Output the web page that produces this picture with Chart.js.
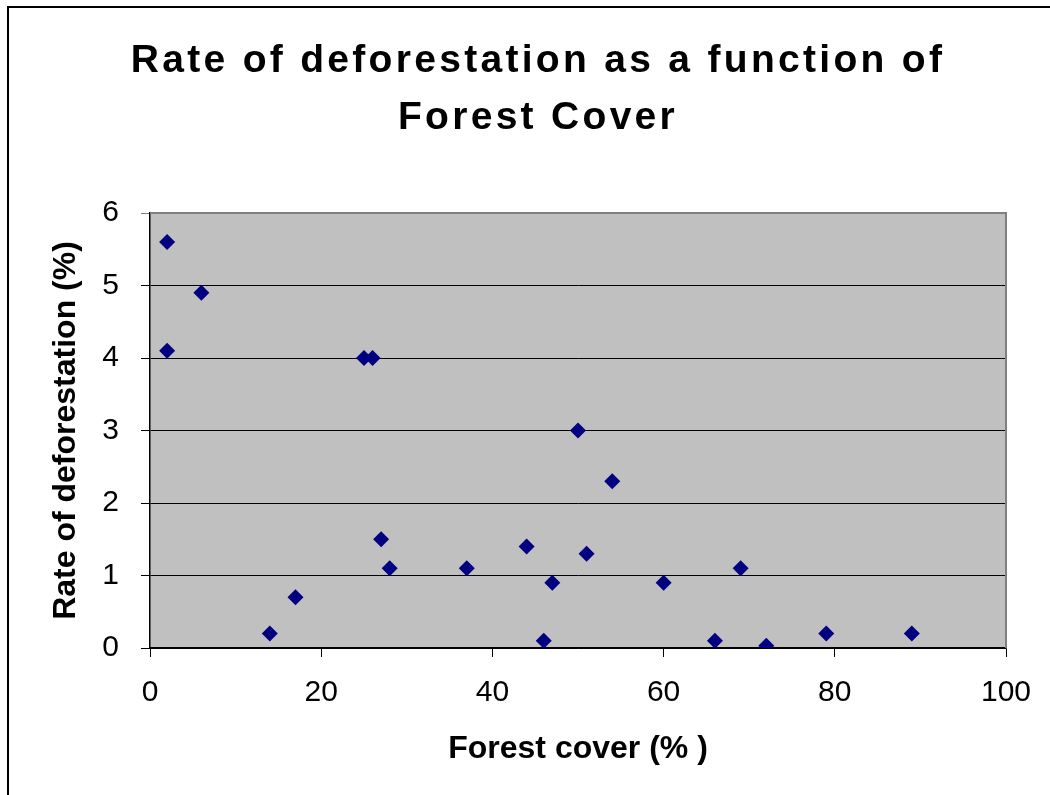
<!DOCTYPE html>
<html>
<head>
<meta charset="utf-8">
<script src="https://cdn.jsdelivr.net/npm/chart.js@4"></script>
<style>
  html, body { margin: 0; padding: 0; background: #fff; }
  #wrap { width: 1050px; height: 795px; position: relative; }
</style>
</head>
<body>
<div id="wrap"><canvas id="deforestChart"></canvas></div>
<script>
// Rate of deforestation vs forest cover
const titleLines = ['Rate of deforestation as a function of', 'Forest Cover'];
const xTitle = 'Forest cover (% )';
const yTitle = 'Rate of deforestation (%)';

const forestCover = [2, 6, 2, 25, 26, 14, 17, 27, 28, 37, 44, 46, 47, 50, 51, 54, 60, 66, 69, 72, 79, 89];
const deforestationRate = [5.6, 4.9, 4.1, 4.0, 4.0, 0.2, 0.7, 1.5, 1.1, 1.1, 1.4, 0.1, 0.9, 3.0, 1.3, 2.3, 0.9, 0.1, 1.1, 0.03, 0.2, 0.2];

const xTicks = [0, 20, 40, 60, 80, 100];
const yTicks = [0, 1, 2, 3, 4, 5, 6];

const points = forestCover.map((x, i) => ({ x: x, y: deforestationRate[i] }));

const FONT = '"Liberation Sans", Arial, sans-serif';

// plot background, outer frame, right/top border and title
const decor = {
    id: 'decor',
    beforeDraw(chart) {
        const { ctx, chartArea: a } = chart;
        ctx.save();
        ctx.fillStyle = '#C0C0C0';
        ctx.fillRect(a.left, a.top, a.right - a.left, a.bottom - a.top);
        // outer frame (only left and top visible)
        ctx.strokeStyle = '#000';
        ctx.lineWidth = 2;
        ctx.beginPath();
        ctx.moveTo(8, 800);
        ctx.lineTo(8, 7);
        ctx.lineTo(1060, 7);
        ctx.stroke();
        ctx.restore();
    },
    afterDraw(chart) {
        const { ctx, chartArea: a } = chart;
        ctx.save();
        ctx.strokeStyle = '#808080';
        ctx.lineWidth = 2;
        ctx.beginPath();
        ctx.moveTo(a.left, a.top);
        ctx.lineTo(a.right, a.top);
        ctx.lineTo(a.right, a.bottom);
        ctx.stroke();
        // title
        ctx.fillStyle = '#000';
        ctx.font = 'bold 39px ' + FONT;
        ctx.letterSpacing = '3.3px';
        ctx.textAlign = 'center';
        ctx.textBaseline = 'middle';
        ctx.fillText(titleLines[0], 538, 61);
        ctx.fillText(titleLines[1], 538, 118);
        ctx.restore();
    }
};

const ctx = document.getElementById('deforestChart').getContext('2d');
new Chart(ctx, {
    type: 'scatter',
    data: {
        datasets: [{
            label: 'Deforestation',
            data: points,
            pointStyle: 'rectRot',
            pointRadius: 8,
            pointHoverRadius: 8,
            backgroundColor: '#000080',
            borderColor: '#000080',
            borderWidth: 0
        }]
    },
    options: {
        responsive: true,
        maintainAspectRatio: false,
        animation: false,
        layout: {
            padding: { top: 213, right: 44, bottom: 0, left: 0 }
        },
        plugins: {
            legend: { display: false },
            tooltip: { enabled: false }
        },
        scales: {
            x: {
                type: 'linear',
                min: 0,
                max: 100,
                afterBuildTicks: (scale) => { scale.ticks = xTicks.map(v => ({ value: v })); },
                afterFit: (scale) => { scale.height = 147; },
                border: { color: '#000', width: 1.5 },
                grid: {
                    drawOnChartArea: false,
                    drawTicks: true,
                    tickLength: 9,
                    color: '#000'
                },
                ticks: {
                    color: '#000',
                    padding: 18,
                    maxRotation: 0,
                    font: { family: FONT, size: 30 }
                },
                title: {
                    display: true,
                    text: xTitle,
                    color: '#000',
                    padding: { top: 0, bottom: 27 },
                    font: { family: FONT, size: 32, weight: 'bold' }
                }
            },
            y: {
                type: 'linear',
                min: 0,
                max: 6,
                afterBuildTicks: (scale) => { scale.ticks = yTicks.map(v => ({ value: v })); },
                afterFit: (scale) => { scale.width = 150; },
                border: { color: '#000', width: 1.5 },
                grid: {
                    drawTicks: true,
                    tickLength: 9,
                    color: (c) => (c.tick && c.tick.value === 6 ? '#808080' : '#000'),
                    lineWidth: 1
                },
                ticks: {
                    color: '#000',
                    padding: 22,
                    font: { family: FONT, size: 30 }
                },
                title: {
                    display: true,
                    text: yTitle,
                    color: '#000',
                    padding: { top: 47, bottom: 0 },
                    font: { family: FONT, size: 32, weight: 'bold' }
                }
            }
        }
    },
    plugins: [decor]
});
</script>
</body>
</html>
